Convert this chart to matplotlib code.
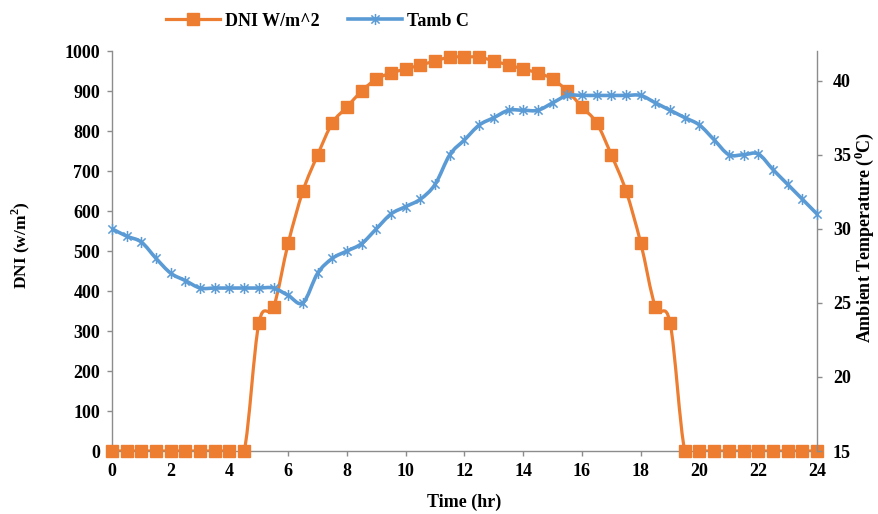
import numpy as np
import matplotlib
matplotlib.use("Agg")
import matplotlib.pyplot as plt
from matplotlib.path import Path
from matplotlib.patches import PathPatch
from matplotlib.lines import Line2D

plt.rcParams['font.family'] = ['Liberation Serif', 'DejaVu Serif']
plt.rcParams['font.weight'] = 'bold'
plt.rcParams['mathtext.fontset'] = 'custom'
plt.rcParams['mathtext.rm'] = 'Liberation Serif:bold'
plt.rcParams['mathtext.bf'] = 'Liberation Serif:bold'

# ---- data ----
time_hr = [0, 0.5, 1, 1.5, 2, 2.5, 3, 3.5, 4, 4.5, 5, 5.5, 6, 6.5, 7, 7.5, 8, 8.5,
           9, 9.5, 10, 10.5, 11, 11.5, 12, 12.5, 13, 13.5, 14, 14.5, 15, 15.5, 16,
           16.5, 17, 17.5, 18, 18.5, 19, 19.5, 20, 20.5, 21, 21.5, 22, 22.5, 23,
           23.5, 24]
dni = [0, 0, 0, 0, 0, 0, 0, 0, 0, 0, 320, 360, 520, 650, 740, 820, 860, 900,
       930, 945, 955, 965, 975, 985, 985, 985, 975, 965, 955, 945, 930, 900, 860,
       820, 740, 650, 520, 360, 320, 0, 0, 0, 0, 0, 0, 0, 0,
       0, 0]
tamb = [30.0, 29.5, 29.1, 28.0, 27.0, 26.5, 26.0, 26.0, 26.0, 26.0, 26.0, 26.0, 25.5, 25.0,
        27.0, 28.0, 28.5, 29.0, 30.0, 31.0, 31.5, 32.0, 33.0, 35.0, 36.0, 37.0, 37.5,
        38.0, 38.0, 38.0, 38.5, 39.0, 39.0, 39.0, 39.0, 39.0, 39.0, 38.5, 38.0, 37.5,
        37.0, 36.0, 35.0, 35.0, 35.05, 34.0, 33.0, 32.0, 31.0]
x_ticks = list(range(0, 25, 2))
dni_ticks = list(range(0, 1001, 100))
temp_ticks = [15, 20, 25, 30, 35, 40]

ORANGE = '#ED7D31'
BLUE = '#5B9BD5'
GRAY = '#8C8C8C'
FS = 13


def smooth_path(x, y):
    pts = np.column_stack([np.asarray(x, float), np.asarray(y, float)])
    n = len(pts)
    verts = [pts[0]]
    codes = [Path.MOVETO]
    for i in range(n - 1):
        p0 = pts[i - 1] if i > 0 else pts[i]
        p1 = pts[i]
        p2 = pts[i + 1]
        p3 = pts[i + 2] if i + 2 < n else pts[i + 1]
        c1 = p1 + (p2 - p0) / 6.0
        c2 = p2 - (p3 - p1) / 6.0
        verts += [c1, c2, p2]
        codes += [Path.CURVE4] * 3
    return Path(np.array(verts), codes)


star = Path([(-1, -1), (1, 1), (-1, 1), (1, -1), (0, -1.35), (0, 1.35)],
            [Path.MOVETO, Path.LINETO, Path.MOVETO, Path.LINETO, Path.MOVETO, Path.LINETO])

fig = plt.figure(figsize=(8.79, 5.14), dpi=100)
ax = fig.add_axes([112 / 879, 1 - 451 / 514, (817 - 112) / 879, (451 - 51) / 514])
ax2 = ax.twinx()

ax.add_patch(PathPatch(smooth_path(time_hr, dni), fill=False, ec=ORANGE, lw=2.3,
                       zorder=2, capstyle='round', joinstyle='round'))
ax.plot(time_hr, dni, ls='none', marker='s', ms=8, color=ORANGE, mec=ORANGE,
        zorder=3, clip_on=False)

ax2.add_patch(PathPatch(smooth_path(time_hr, tamb), fill=False, ec=BLUE, lw=2.6,
                        zorder=2, capstyle='round', joinstyle='round'))
ax2.plot(time_hr, tamb, ls='none', marker=star, ms=8, mew=1.1, color=BLUE,
         zorder=3, clip_on=False)

ax.set_xlim(0, 24)
ax.set_ylim(0, 1000)
ax2.set_ylim(15, 42)
ax.set_xticks(x_ticks)
ax.set_yticks(dni_ticks)
ax2.set_yticks(temp_ticks)

for a in (ax, ax2):
    a.spines['top'].set_visible(False)
    for s in ('left', 'right', 'bottom'):
        a.spines[s].set_color(GRAY)
        a.spines[s].set_linewidth(1.0)
    a.tick_params(direction='out', length=3.5, width=1, color=GRAY,
                  labelsize=FS, labelcolor='black')
ax.spines['right'].set_visible(False)
ax2.spines['left'].set_visible(False)
ax2.spines['bottom'].set_visible(False)
ax.tick_params(axis='x', pad=5)
ax.tick_params(axis='y', pad=5)
ax2.tick_params(axis='y', pad=8)

for lab in ax.get_xticklabels() + ax.get_yticklabels() + ax2.get_yticklabels():
    lab.set_fontweight('bold')

ax.set_xlabel('Time (hr)', fontsize=FS, fontweight='bold', va='center')
ax.xaxis.set_label_coords(0.5, -0.1275)
ax.set_ylabel(r'DNI (w/m$^{2}$)', fontsize=FS - 0.5, fontweight='bold',
              va='center', ha='center')
ax.yaxis.set_label_coords(-0.13, 0.515)
ax2.set_ylabel(r'Ambient Temperature ($^{0}$C)', fontsize=FS, fontweight='bold',
               va='center', ha='center', rotation=90)
ax2.yaxis.set_label_coords(1.067, 0.535)

handles = [
    Line2D([], [], color=ORANGE, lw=2.3, marker='s', ms=8),
    Line2D([], [], color=BLUE, lw=2.6, marker=star, ms=8, mew=1.1),
]
fig.legend(handles, ['DNI W/m^2', 'Tamb C'], loc='center', ncol=2,
           bbox_to_anchor=(0.361, 0.959), frameon=False, handlelength=3.0,
           columnspacing=1.6, handletextpad=0.25,
           prop={'family': 'Liberation Serif', 'weight': 'bold', 'size': FS})

fig.savefig('out.png', dpi=100)
